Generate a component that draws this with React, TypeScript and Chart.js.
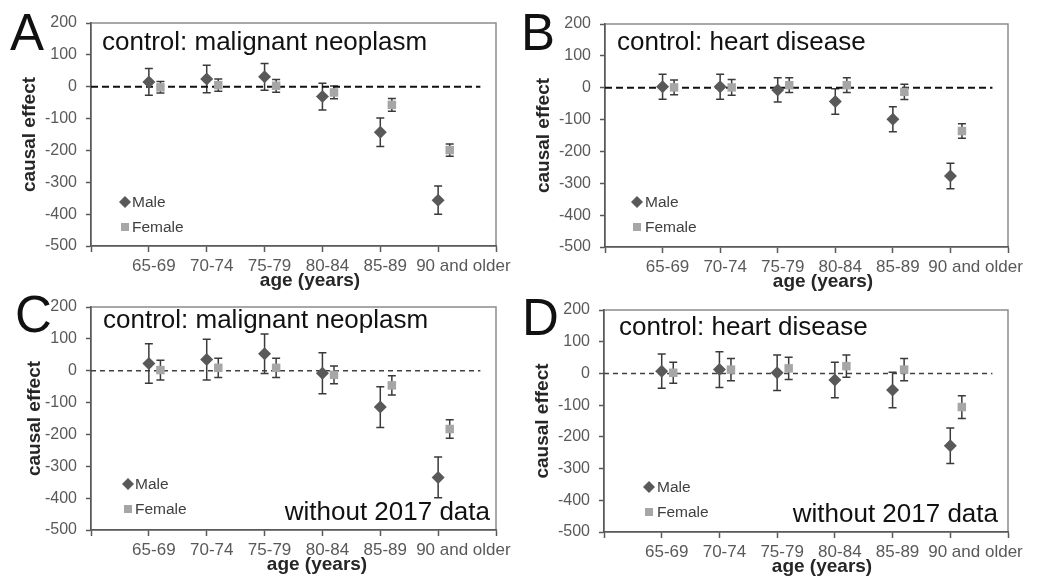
import React, { useEffect, useRef } from 'react';
import { Chart, registerables } from 'chart.js';

Chart.register(...registerables);

// ---------- data ----------
const ageGroups = ['65-69', '70-74', '75-79', '80-84', '85-89', '90 and older'];
const yTickValues = [200, 100, 0, -100, -200, -300, -400, -500];
const xAxisTitle = 'age (years)';
const yAxisTitle = 'causal effect';
const legendLabels = ['Male', 'Female'];

const maleA = [15, 24, 31, -31, -143, -356];
const maleErrA = [42, 43, 42, 42, 45, 44];
const femaleA = [-2, 5, 3, -18, -57, -199];
const femaleErrA = [18, 19, 20, 20, 20, 19];

const maleB = [3, 3, -7, -43, -99, -277];
const maleErrB = [39, 39, 38, 40, 39, 40];
const femaleB = [1, 1, 8, 8, -13, -136];
const femaleErrB = [23, 25, 23, 23, 24, 23];

const maleC = [23, 35, 53, -8, -114, -335];
const maleErrC = [62, 64, 62, 64, 64, 64];
const femaleC = [2, 9, 9, -13, -46, -183];
const femaleErrC = [31, 30, 30, 28, 30, 29];

const maleD = [7, 12, 2, -21, -52, -228];
const maleErrD = [54, 56, 56, 56, 56, 56];
const femaleD = [2, 12, 16, 23, 12, -106];
const femaleErrD = [33, 35, 35, 35, 35, 36];

// ---------- styling / layout ----------
const FONT = "'Liberation Sans', Arial, sans-serif";
const FEMALE_SHIFT = 0.2;
const LAST_LABEL_POS = 6.35;
const ZERO_LINE_END = 6.73;

type Spec = {
  letter: string;
  title: string;
  note?: string;
  male: number[];
  maleErr: number[];
  female: number[];
  femaleErr: number[];
  pos: { left: number; top: number; w: number; h: number };
  area: { left: number; top: number; right: number; bottom: number };
  letterXY: [number, number];
  titleD: [number, number];
  noteD: [number, number];
  legend: { dx: number; maleDy: number; femaleDy: number; textDx: number };
  yTitleX: number;
  xTitleDx: number;
  xTitleY: number;
  dash: { color: string; width: number; pattern: number[] };
};

const topDash = { color: '#111111', width: 2, pattern: [7, 4] };
const botDash = { color: '#404040', width: 1.5, pattern: [5, 4] };

const panels: Spec[] = [
  {
    letter: 'A', title: 'control: malignant neoplasm',
    male: maleA, maleErr: maleErrA, female: femaleA, femaleErr: femaleErrA,
    pos: { left: 0, top: 0, w: 518, h: 292 },
    area: { left: 91, top: 23, right: 496, bottom: 246 },
    letterXY: [10, 50], titleD: [11, 27], noteD: [6, 10],
    legend: { dx: 34, maleDy: 44, femaleDy: 19, textDx: 7 },
    yTitleX: 30, xTitleDx: 219, xTitleY: 281, dash: topDash,
  },
  {
    letter: 'B', title: 'control: heart disease',
    male: maleB, maleErr: maleErrB, female: femaleB, femaleErr: femaleErrB,
    pos: { left: 515, top: 0, w: 522, h: 292 },
    area: { left: 90, top: 24, right: 493, bottom: 247 },
    letterXY: [6, 50], titleD: [12, 26], noteD: [6, 10],
    legend: { dx: 32, maleDy: 45, femaleDy: 20, textDx: 8 },
    yTitleX: 29, xTitleDx: 218, xTitleY: 281.5, dash: topDash,
  },
  {
    letter: 'C', title: 'control: malignant neoplasm', note: 'without 2017 data',
    male: maleC, maleErr: maleErrC, female: femaleC, femaleErr: femaleErrC,
    pos: { left: 0, top: 285, w: 518, h: 292 },
    area: { left: 91, top: 22, right: 496, bottom: 245 },
    letterXY: [15, 47], titleD: [12, 21], noteD: [6, 10.5],
    legend: { dx: 37, maleDy: 46, femaleDy: 21, textDx: 7 },
    yTitleX: 35, xTitleDx: 226, xTitleY: 280, dash: botDash,
  },
  {
    letter: 'D', title: 'control: heart disease', note: 'without 2017 data',
    male: maleD, maleErr: maleErrD, female: femaleD, femaleErr: femaleErrD,
    pos: { left: 515, top: 285, w: 522, h: 292 },
    area: { left: 89, top: 25, right: 493, bottom: 247 },
    letterXY: [7, 50], titleD: [15, 25], noteD: [10, 10.3],
    legend: { dx: 45, maleDy: 45, femaleDy: 20, textDx: 8 },
    yTitleX: 28, xTitleDx: 218, xTitleY: 281.5, dash: botDash,
  },
];

const MALE_COLOR = '#595959';
const FEMALE_COLOR = '#a6a6a6';
const AXIS_COLOR = '#595959';
const TEXT_COLOR = '#595959';

const errorBarPlugin = {
  id: 'errorBars',
  beforeDatasetsDraw(chart: any) {
    const ctx = chart.ctx;
    const ys = chart.scales.y;
    chart.data.datasets.forEach((ds: any, i: number) => {
      if (!ds.errors) return;
      const meta = chart.getDatasetMeta(i);
      ctx.save();
      ctx.strokeStyle = '#3a3a3a';
      ctx.lineWidth = 1.5;
      meta.data.forEach((pt: any, j: number) => {
        const v = ds.data[j].y;
        const e = ds.errors[j];
        const yt = ys.getPixelForValue(v + e);
        const yb = ys.getPixelForValue(v - e);
        const x = pt.x;
        const cw = 4;
        ctx.beginPath();
        ctx.moveTo(x, yt);
        ctx.lineTo(x, yb);
        ctx.moveTo(x - cw, yt);
        ctx.lineTo(x + cw, yt);
        ctx.moveTo(x - cw, yb);
        ctx.lineTo(x + cw, yb);
        ctx.stroke();
      });
      ctx.restore();
    });
  },
};

function makeDeco(p: Spec) {
  return {
    id: 'deco',
    beforeDraw(chart: any) {
      const { ctx, chartArea: a } = chart;
      ctx.save();
      ctx.strokeStyle = '#8c8c8c';
      ctx.lineWidth = 1.5;
      ctx.strokeRect(a.left, a.top, a.right - a.left, a.bottom - a.top);
      ctx.restore();
    },
    afterDraw(chart: any) {
      const { ctx, chartArea: a } = chart;
      ctx.save();
      // panel letter
      ctx.fillStyle = '#111111';
      ctx.textAlign = 'left';
      ctx.textBaseline = 'alphabetic';
      ctx.font = `51px ${FONT}`;
      ctx.fillText(p.letter, p.letterXY[0], p.letterXY[1]);
      // panel title
      ctx.font = `26px ${FONT}`;
      ctx.fillText(p.title, a.left + p.titleD[0], a.top + p.titleD[1]);
      if (p.note) {
        ctx.textAlign = 'right';
        ctx.fillText(p.note, a.right - p.noteD[0], a.bottom - p.noteD[1]);
      }
      // x axis title
      ctx.fillStyle = '#262626';
      ctx.textAlign = 'center';
      ctx.textBaseline = 'middle';
      ctx.font = `bold 19px ${FONT}`;
      ctx.fillText(xAxisTitle, a.left + p.xTitleDx, p.xTitleY);
      // legend
      const lx = a.left + p.legend.dx;
      const my = a.bottom - p.legend.maleDy;
      const fy = a.bottom - p.legend.femaleDy;
      ctx.fillStyle = MALE_COLOR;
      ctx.beginPath();
      ctx.moveTo(lx, my - 6);
      ctx.lineTo(lx + 6, my);
      ctx.lineTo(lx, my + 6);
      ctx.lineTo(lx - 6, my);
      ctx.closePath();
      ctx.fill();
      ctx.fillStyle = FEMALE_COLOR;
      ctx.fillRect(lx - 4, fy - 4, 8, 8);
      ctx.fillStyle = '#404040';
      ctx.textAlign = 'left';
      ctx.font = `15.5px ${FONT}`;
      ctx.fillText(legendLabels[0], lx + p.legend.textDx, my + 1);
      ctx.fillText(legendLabels[1], lx + p.legend.textDx, fy + 1);
      ctx.restore();
    },
  };
}

function Panel({ p }: { p: Spec }) {
  const ref = useRef<HTMLCanvasElement>(null);
  useEffect(() => {
    const canvas = ref.current!;
    const maleData = p.male.map((v, i) => ({ x: i + 1, y: v }));
    const femaleData = p.female.map((v, i) => ({ x: i + 1 + FEMALE_SHIFT, y: v }));
    const chart = new Chart(canvas, {
      type: 'scatter',
      data: {
        datasets: [
          {
            label: 'zero',
            data: [{ x: 0, y: 0 }, { x: ZERO_LINE_END, y: 0 }],
            showLine: true,
            pointRadius: 0,
            borderColor: p.dash.color,
            borderWidth: p.dash.width,
            borderDash: p.dash.pattern,
            order: 3,
          } as any,
          {
            label: legendLabels[1],
            data: femaleData,
            errors: p.femaleErr,
            pointStyle: 'rect',
            pointRadius: 6,
            backgroundColor: FEMALE_COLOR,
            borderColor: FEMALE_COLOR,
            borderWidth: 0,
            order: 2,
          } as any,
          {
            label: legendLabels[0],
            data: maleData,
            errors: p.maleErr,
            pointStyle: 'rectRot',
            pointRadius: 6.5,
            backgroundColor: MALE_COLOR,
            borderColor: MALE_COLOR,
            borderWidth: 0,
            order: 1,
          } as any,
        ],
      },
      options: {
        responsive: false,
        animation: false,
        devicePixelRatio: 1,
        events: [],
        layout: {
          padding: { left: 0, top: p.area.top, right: p.pos.w - p.area.right, bottom: 0 },
        },
        plugins: {
          legend: { display: false },
          tooltip: { enabled: false },
          title: { display: false },
        },
        scales: {
          x: {
            type: 'linear',
            min: 0,
            max: 7,
            afterBuildTicks: (axis: any) => {
              axis.ticks = [0, 1, 2, 3, 4, 5, 6, 7, LAST_LABEL_POS].map((v) => ({ value: v }));
            },
            afterFit: (axis: any) => {
              axis.height = p.pos.h - p.area.bottom;
            },
            ticks: {
              autoSkip: false,
              maxRotation: 0,
              minRotation: 0,
              labelOffset: 5,
              padding: 4,
              color: TEXT_COLOR,
              font: { family: FONT, size: 17 },
              callback: (value: any) => {
                const v = Number(value);
                if (v > 6 && v < 7) return ageGroups[5];
                if (Number.isInteger(v) && v >= 1 && v <= 5) return ageGroups[v - 1];
                return '';
              },
            },
            grid: {
              drawOnChartArea: false,
              drawTicks: true,
              tickLength: 6,
              tickWidth: 1.5,
              tickColor: (ctx: any) =>
                ctx.tick && Number.isInteger(ctx.tick.value) ? AXIS_COLOR : 'rgba(0,0,0,0)',
            },
            border: { display: true, color: AXIS_COLOR, width: 1.5 },
          },
          y: {
            type: 'linear',
            min: -500,
            max: 200,
            afterBuildTicks: (axis: any) => {
              axis.ticks = yTickValues.map((v) => ({ value: v }));
            },
            afterFit: (axis: any) => {
              axis.width = p.area.left;
            },
            ticks: {
              padding: 9,
              color: TEXT_COLOR,
              font: { family: FONT, size: 16 },
            },
            grid: {
              drawOnChartArea: false,
              drawTicks: true,
              tickLength: 5,
              tickWidth: 1.5,
              tickColor: AXIS_COLOR,
            },
            border: { display: true, color: AXIS_COLOR, width: 1.5 },
            title: {
              display: true,
              text: yAxisTitle,
              color: '#262626',
              font: { family: FONT, size: 19, weight: 'bold' },
              padding: { top: p.yTitleX - 11.4, bottom: 0 },
            },
          },
        },
      } as any,
      plugins: [errorBarPlugin, makeDeco(p)],
    });
    return () => chart.destroy();
  }, []);
  return (
    <div style={{ position: 'absolute', left: p.pos.left, top: p.pos.top, width: p.pos.w, height: p.pos.h }}>
      <canvas ref={ref} width={p.pos.w} height={p.pos.h} style={{ width: p.pos.w, height: p.pos.h, display: 'block' }} />
    </div>
  );
}

export default function App() {
  return (
    <div style={{ position: 'absolute', left: 0, top: 0, width: 1037, height: 577, background: '#ffffff', overflow: 'hidden' }}>
      {panels.map((p) => (
        <Panel key={p.letter} p={p} />
      ))}
    </div>
  );
}
